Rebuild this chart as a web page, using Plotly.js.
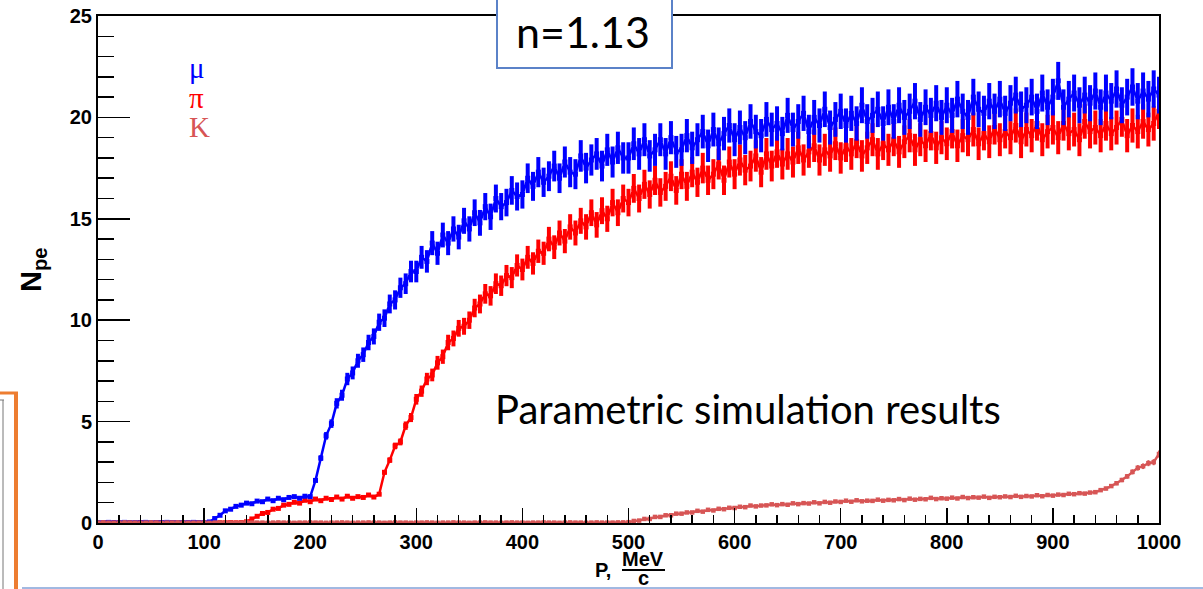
<!DOCTYPE html>
<html>
<head>
<meta charset="utf-8">
<script src="https://cdn.plot.ly/plotly-3.0.1.min.js"></script>
<style>html,body{margin:0;padding:0;background:#fff;}#chart{width:1203px;height:589px;}</style>
</head>
<body>
<div id="chart"></div>
<script>
// Momentum bins: 0..1000 MeV/c in steps of 5 MeV/c
const P_STEP = 5;

// Muon N_pe (blue)
const MU = [
0.02,0.01,0.03,0.01,0.02,0.03,0.01,0.02,0.01,0.03,
0.02,0.01,0.02,0.03,0.01,0.02,0.02,0.01,0.03,0.02,
0.02,0.05,0.22,0.38,0.6,0.68,0.82,0.88,0.98,0.95,
1.08,1.05,1.18,1.1,1.22,1.15,1.26,1.3,1.22,1.32,
1.3,2.1,3.2,4.3,4.9,5.9,6.3,7.1,7.4,8.0,
8.3,8.9,9.2,9.9,10.1,10.8,11.0,11.6,11.8,12.4,
12.4,13.1,12.9,13.8,13.3,14.2,13.8,14.5,14.1,14.9,
14.5,15.3,14.8,15.6,15.1,16.0,15.6,15.8,16.4,16.1,
16.2,17.0,16.6,17.3,16.8,17.1,17.6,17.0,17.8,17.3,
17.2,18.1,17.5,17.9,18.2,17.6,18.4,17.8,18.5,18.0,
18.0,18.7,18.2,18.9,18.1,18.4,18.9,18.2,19.0,18.3,
18.4,19.1,18.5,18.9,19.3,18.6,19.4,18.7,19.2,19.6,
18.9,19.5,19.0,19.8,19.3,19.1,19.9,19.4,19.7,19.2,
20.1,19.4,19.8,20.2,19.3,20.0,19.6,20.4,19.5,19.9,
20.3,19.6,20.2,19.7,20.6,19.8,20.1,20.4,19.7,20.5,
19.8,20.6,20.0,20.3,20.8,19.9,20.5,20.1,20.7,20.0,
20.6,20.1,20.9,20.3,20.0,21.0,20.4,20.2,20.8,20.3,
20.9,20.2,20.7,21.1,20.4,20.6,21.0,20.3,21.2,20.5,
21.0,21.8,20.5,20.9,21.2,20.6,21.1,20.7,21.3,20.5,
21.2,20.8,21.4,20.6,21.0,21.5,20.8,21.3,20.9,21.4,
21.1
];

// Pion N_pe (red)
const PI = [
0.01,0.02,0.01,0.02,0.01,0.01,0.02,0.01,0.02,0.01,
0.01,0.02,0.01,0.01,0.02,0.01,0.02,0.01,0.01,0.02,
0.01,0.02,0.01,0.02,0.01,0.02,0.01,0.02,0.06,0.2,
0.33,0.47,0.52,0.68,0.72,0.88,0.92,1.02,0.98,1.12,
1.05,1.18,1.1,1.22,1.16,1.28,1.18,1.32,1.22,1.3,
1.26,1.38,1.28,1.42,2.5,3.1,3.8,4.0,4.8,5.2,
6.1,6.5,7.1,7.3,7.9,8.2,8.9,9.1,9.6,9.7,
10.0,10.6,10.8,11.3,11.2,11.8,11.7,12.2,12.1,12.7,
12.5,13.1,12.8,13.4,13.3,14.0,13.6,14.3,13.9,14.6,
14.3,14.9,14.6,15.3,14.7,15.4,15.0,15.8,15.3,16.0,
15.8,16.5,16.0,16.7,16.2,16.9,16.3,16.6,17.1,16.4,
17.2,16.6,17.3,16.8,17.5,16.9,17.2,17.7,16.9,17.8,
17.2,17.9,17.4,17.6,18.1,17.3,18.2,17.6,18.3,17.7,
18.2,17.8,18.5,17.9,18.3,18.6,17.9,18.4,18.1,18.7,
18.0,18.6,18.2,18.8,18.1,18.5,18.9,18.2,18.7,18.4,
18.9,18.3,18.8,19.1,18.4,18.9,18.6,19.2,18.5,19.0,
18.7,19.3,18.6,19.1,18.9,19.4,18.7,19.2,18.8,19.5,
18.9,19.3,19.0,19.6,18.8,19.4,19.1,19.7,18.9,19.3,
19.5,19.0,19.7,19.2,19.4,18.9,19.8,19.3,19.5,19.1,
19.7,19.2,19.5,19.9,19.1,19.6,19.3,19.8,19.4,19.7,
20.3
];

// Kaon N_pe (light red)
const KA = [
0.02,0.03,0.02,0.01,0.02,0.03,0.02,0.02,0.01,0.02,
0.03,0.02,0.01,0.02,0.02,0.03,0.02,0.01,0.02,0.02,
0.02,0.01,0.02,0.03,0.02,0.02,0.01,0.02,0.03,0.02,
0.02,0.02,0.01,0.02,0.03,0.02,0.02,0.01,0.02,0.02,
0.03,0.02,0.02,0.01,0.02,0.02,0.03,0.02,0.01,0.02,
0.02,0.03,0.02,0.02,0.01,0.02,0.03,0.02,0.02,0.01,
0.02,0.02,0.03,0.02,0.01,0.02,0.02,0.03,0.02,0.02,
0.01,0.02,0.02,0.03,0.02,0.02,0.01,0.02,0.03,0.02,
0.02,0.01,0.02,0.02,0.03,0.02,0.02,0.01,0.02,0.03,
0.02,0.02,0.01,0.02,0.03,0.02,0.02,0.02,0.03,0.03,
0.04,0.1,0.12,0.2,0.2,0.3,0.3,0.38,0.38,0.46,
0.46,0.52,0.52,0.6,0.56,0.65,0.62,0.7,0.68,0.75,
0.74,0.8,0.78,0.86,0.82,0.86,0.87,0.92,0.88,0.93,
0.9,0.97,0.93,0.98,0.96,1.02,0.97,1.04,1.0,1.06,
1.04,1.1,1.05,1.12,1.07,1.1,1.09,1.15,1.1,1.14,
1.12,1.18,1.13,1.2,1.15,1.19,1.17,1.24,1.18,1.22,
1.2,1.25,1.21,1.28,1.23,1.27,1.25,1.3,1.24,1.29,
1.27,1.31,1.28,1.34,1.29,1.33,1.31,1.37,1.32,1.38,
1.35,1.4,1.38,1.44,1.42,1.47,1.45,1.5,1.52,1.62,
1.7,1.82,1.96,2.12,2.3,2.52,2.72,2.8,2.95,3.0,
3.4
];

const LEGEND_LABELS = ['μ', 'π', 'K'];
const COLORS = ['#0000ff', '#ff0000', '#d75555'];

const P = MU.map((_, i) => i * P_STEP);

function series(y, color, errPct, lw, ms, et) {
  return {
    x: P, y: y, type: 'scatter', mode: 'lines+markers',
    line: {color: color, width: lw},
    marker: {color: color, size: ms, symbol: 'square'},
    error_y: {type: 'percent', value: errPct, color: color, thickness: et, width: 0},
    hoverinfo: 'x+y', showlegend: false, cliponaxis: true
  };
}

const traces = [
  series(PI, COLORS[1], 4.3, 2.5, 5, 4),
  series(MU, COLORS[0], 4.3, 2.5, 5, 4),
  series(KA, COLORS[2], 5, 2.5, 4.5, 2)
];

const L = 98, R = 1159, T = 16, B = 523;
const px = v => (v - L) / (R - L);
const py = v => (B - v) / (B - T);

const HELV = 'Liberation Sans, Arial, sans-serif';
const tickFont = {family: HELV, size: 20, color: '#000', weight: 'bold'};

const layout = {
  width: 1203, height: 589,
  margin: {l: L, r: 1203 - R, t: T, b: 589 - B},
  paper_bgcolor: '#fff', plot_bgcolor: '#fff',
  xaxis: {
    range: [0, 1000], dtick: 100, tick0: 0, ticks: 'inside', ticklen: 15, tickwidth: 1.5, tickcolor: '#000',
    showline: true, linecolor: '#000', linewidth: 2, mirror: true, showgrid: false, zeroline: false,
    tickfont: tickFont,
    minor: {dtick: 20, ticks: 'inside', ticklen: 8, tickwidth: 1.5, tickcolor: '#000', showgrid: false}
  },
  yaxis: {
    range: [0, 25], dtick: 5, tick0: 0, ticks: 'inside', ticklen: 32, tickwidth: 1.5, tickcolor: '#000',
    showline: true, linecolor: '#000', linewidth: 2, mirror: true, showgrid: false, zeroline: false,
    tickfont: tickFont,
    minor: {dtick: 1, ticks: 'inside', ticklen: 16, tickwidth: 1.5, tickcolor: '#000', showgrid: false}
  },
  annotations: [
    {xref: 'paper', yref: 'paper', x: px(33), y: py(270), text: '<b>N<sub>pe</sub></b>', showarrow: false,
     textangle: -90, font: {family: HELV, size: 29, color: '#000'}, xanchor: 'center', yanchor: 'middle'},
    {xref: 'paper', yref: 'paper', x: px(613), y: py(570), text: '<b>P,</b>', showarrow: false,
     font: {family: HELV, size: 20, color: '#000'}, xanchor: 'right', yanchor: 'middle'},
    {xref: 'paper', yref: 'paper', x: px(643), y: py(559), text: '<b>MeV</b>', showarrow: false,
     font: {family: HELV, size: 20, color: '#000'}, xanchor: 'center', yanchor: 'middle'},
    {xref: 'paper', yref: 'paper', x: px(643), y: py(578), text: '<b>c</b>', showarrow: false,
     font: {family: HELV, size: 20, color: '#000'}, xanchor: 'center', yanchor: 'middle'},
    {xref: 'paper', yref: 'paper', x: px(187), y: py(68), text: LEGEND_LABELS[0], showarrow: false,
     font: {family: 'Liberation Serif, Times New Roman, serif', size: 29, color: COLORS[0]}, xanchor: 'left', yanchor: 'middle'},
    {xref: 'paper', yref: 'paper', x: px(187), y: py(98), text: LEGEND_LABELS[1], showarrow: false,
     font: {family: 'Liberation Serif, Times New Roman, serif', size: 29, color: COLORS[1]}, xanchor: 'left', yanchor: 'middle'},
    {xref: 'paper', yref: 'paper', x: px(187), y: py(127), text: LEGEND_LABELS[2], showarrow: false,
     font: {family: 'Liberation Serif, Times New Roman, serif', size: 29, color: COLORS[2]}, xanchor: 'left', yanchor: 'middle'},
    {xref: 'paper', yref: 'paper', x: px(583), y: py(31), text: 'n=1.13', showarrow: false,
     font: {family: 'Lato, Open Sans, sans-serif', size: 43, color: '#000'}, xanchor: 'center', yanchor: 'middle'},
    {xref: 'paper', yref: 'paper', x: px(748), y: py(409), text: 'Parametric simulation results', showarrow: false,
     font: {family: 'Lato, Open Sans, sans-serif', size: 40, color: '#000'}, xanchor: 'center', yanchor: 'middle'}
  ],
  shapes: [
    // n=1.13 box
    {type: 'rect', xref: 'paper', yref: 'paper', x0: px(497), x1: px(672), y0: py(68), y1: py(-5),
     fillcolor: '#ffffff', line: {color: '#5b82c8', width: 2}, layer: 'above'},
    // fraction bar
    {type: 'line', xref: 'paper', yref: 'paper', x0: px(622), x1: px(665), y0: py(570), y1: py(570),
     line: {color: '#000', width: 2}},
    // slide decorations
    {type: 'line', xref: 'paper', yref: 'paper', x0: px(0), x1: px(18), y0: py(393), y1: py(393), line: {color: '#ed7d31', width: 3}},
    {type: 'line', xref: 'paper', yref: 'paper', x0: px(16), x1: px(16), y0: py(392), y1: py(592), line: {color: '#ed7d31', width: 4}},
    {type: 'line', xref: 'paper', yref: 'paper', x0: px(0), x1: px(4), y0: py(400), y1: py(400), line: {color: '#777', width: 1}},
    {type: 'line', xref: 'paper', yref: 'paper', x0: px(3), x1: px(3), y0: py(400), y1: py(592), line: {color: '#777', width: 1}},
    {type: 'line', xref: 'paper', yref: 'paper', x0: px(22), x1: px(1203), y0: py(588), y1: py(588), line: {color: '#4472c4', width: 1}}
  ]
};

Plotly.newPlot('chart', traces, layout, {staticPlot: true, displayModeBar: false});
</script>
</body>
</html>
